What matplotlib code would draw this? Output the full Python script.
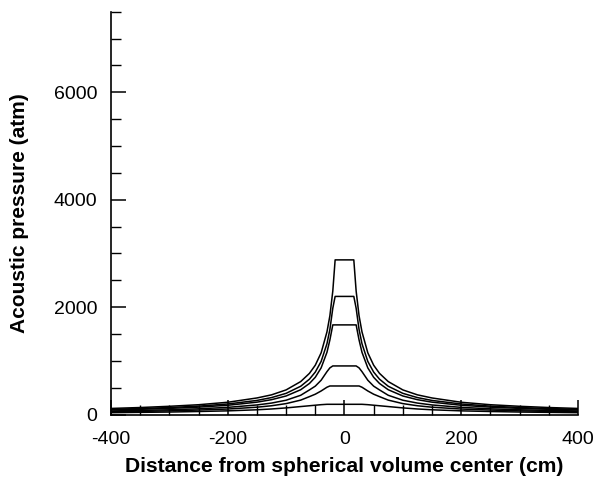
import matplotlib
matplotlib.use("Agg")
import matplotlib.pyplot as plt
from matplotlib.ticker import MultipleLocator

plt.rcParams['font.family'] = ['Liberation Sans', 'DejaVu Sans']
plt.rcParams['axes.unicode_minus'] = False

# distances (cm) from the center (one side, mirrored for the other side)
r_half = [0, 16, 20, 25, 30, 40, 50, 60, 75, 100, 125, 150, 200, 250, 300, 350, 400]

p1 = [2880, 2880, 2300, 1840, 1540, 1150, 920, 768, 615, 460, 368, 310, 230, 184, 155, 132, 115]
p2 = [2200, 2200, 1980, 1584, 1320, 990, 792, 660, 528, 396, 317, 264, 198, 158, 132, 113, 99]
p3 = [1670, 1670, 1670, 1390, 1160, 870, 695, 580, 463, 347, 278, 232, 174, 139, 116, 99, 87]
p4 = [906, 906, 906, 870, 800, 640, 530, 460, 360, 268, 215, 180, 135, 108, 90, 78, 68]
p5 = [533, 533, 533, 533, 510, 440, 380, 335, 270, 205, 165, 138, 104, 85, 70, 60, 52]
p6 = [192, 192, 192, 192, 192, 185, 175, 165, 150, 125, 105, 90, 70, 58, 48, 42, 36]
series = [p1, p2, p3, p4, p5, p6]

x_ticks = [-400, -200, 0, 200, 400]
y_ticks = [0, 2000, 4000, 6000]

fig = plt.figure(figsize=(5.97, 4.78), dpi=100)
ax = fig.add_axes([0.186, 0.1326, 0.782, 0.843])

xs = [-r for r in r_half[::-1]] + r_half[1:]
for p in series:
    ys = p[::-1] + p[1:]
    ax.plot(xs, ys, color='black', lw=1.1)

ax.set_xlim(-400, 400)
ax.set_ylim(0, 7500)
ax.set_xticks(x_ticks)
ax.set_yticks(y_ticks)
ax.xaxis.set_minor_locator(MultipleLocator(50))
ax.yaxis.set_minor_locator(MultipleLocator(500))
ax.tick_params(which='major', direction='in', length=11, width=1.1, labelsize=14)
ax.tick_params(which='minor', direction='in', length=7, width=1.0)
ax.tick_params(axis='x', which='major', pad=12)
ax.tick_params(axis='y', which='major', pad=10)
for s in ['top', 'right']:
    ax.spines[s].set_visible(False)
for s in ['left', 'bottom']:
    ax.spines[s].set_linewidth(1.2)

ax.set_xlabel('Distance from spherical volume center (cm)', fontsize=15.2, fontweight='bold', labelpad=6)
ax.set_ylabel('Acoustic pressure (atm)', fontsize=15, fontweight='bold', labelpad=18)

fig.savefig('out.png', dpi=100)
